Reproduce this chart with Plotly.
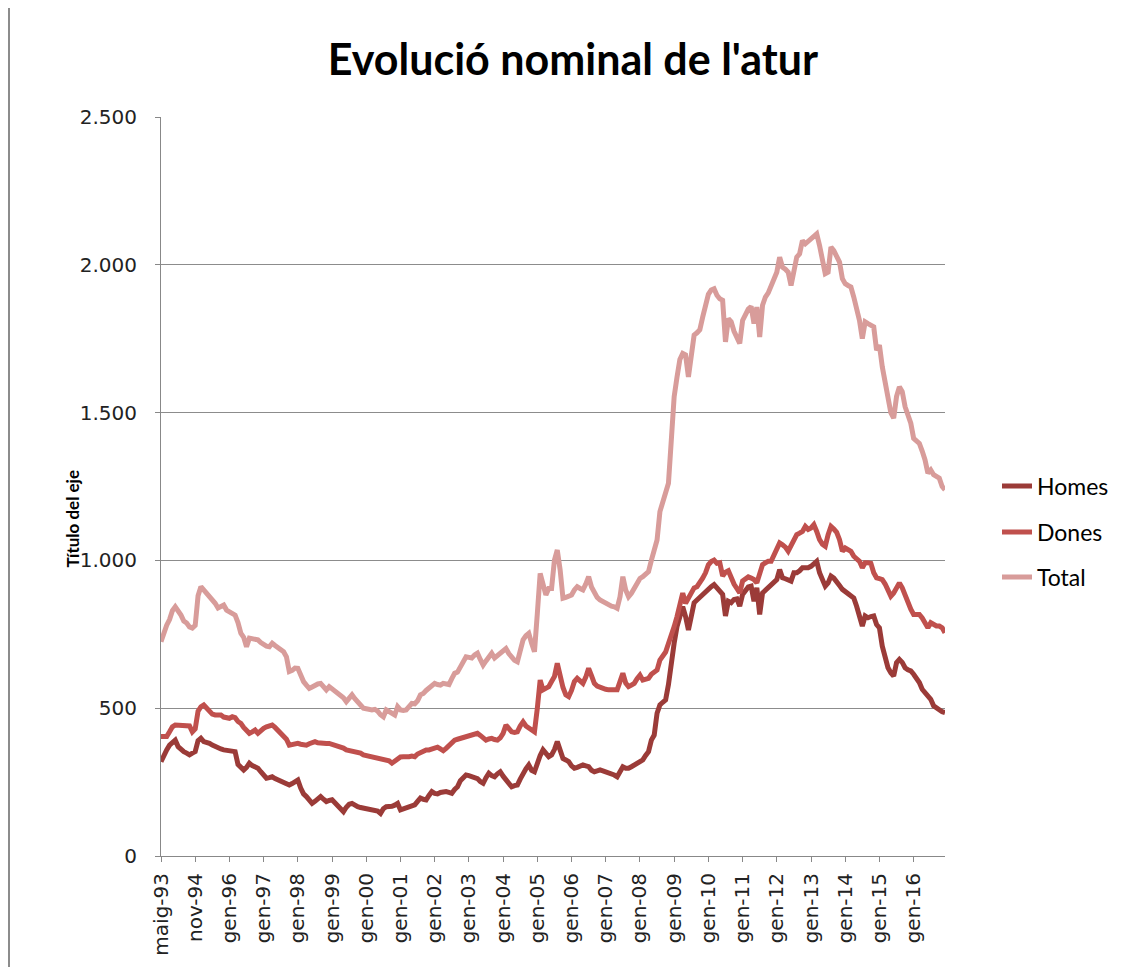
import plotly.graph_objects as go

# Monthly series (thousands), first point maig-93, one label every 12 points
homes = [319, 345, 359, 375, 385, 392, 370, 360, 353, 348, 342, 348,
         353, 390, 398, 387, 385, 381, 375, 369, 364, 362, 359, 357,
         355, 353, 353, 310, 297, 291, 300, 314, 306, 302, 297, 285,
         274, 263, 265, 268, 262, 257, 252, 247, 242, 240, 245, 252,
         257, 230, 210, 201, 190, 178, 185, 195, 201, 192, 184, 188,
         190, 180, 168, 158, 150, 165, 175, 178, 170, 167, 164, 162,
         161, 159, 157, 156, 152, 144, 160, 167, 167, 168, 172, 178,
         156, 160, 161, 166, 170, 173, 185, 196, 192, 190, 205, 218,
         212, 210, 215, 218, 218, 215, 212, 225, 234, 255, 268, 274,
         272, 270, 268, 262, 252, 246, 265, 280, 272, 268, 278, 285,
         270, 257, 245, 234, 238, 240, 260, 280, 295, 308, 290, 285,
         319, 340, 359, 345, 336, 342, 360, 387, 355, 330, 325, 319,
         305, 297, 300, 305, 308, 305, 302, 290, 285, 288, 291, 288,
         285, 282, 280, 274, 268, 290, 302, 297, 297, 302, 308, 315,
         320, 325, 340, 353, 392, 409, 483, 511, 520, 528, 580, 660,
         720, 776, 810, 843, 810, 765, 810, 857, 866, 875, 885, 894,
         907, 911, 918, 907, 890, 885, 812, 862, 857, 868, 870, 845,
         885, 900, 910, 913, 862, 907, 817, 890, 900, 907, 915, 924,
         935, 969, 941, 938, 935, 930, 958, 958, 965, 975, 975, 975,
         980, 990, 997, 958, 930, 913, 924, 947, 940, 930, 915, 902,
         895, 890, 880, 873, 845, 812, 778, 812, 806, 810, 812, 783,
         772, 710, 665, 637, 620, 609, 654, 665, 655, 637, 630, 626,
         615, 600, 587, 564, 553, 540, 530, 508, 500, 497, 488, 485]

dones = [404, 404, 404, 420, 437, 443, 443, 443, 443, 443, 440, 420,
         430, 490, 505, 511, 500, 488, 480, 477, 477, 477, 470, 468,
         466, 471, 468, 455, 449, 435, 426, 415, 420, 426, 415, 425,
         432, 437, 440, 443, 435, 426, 418, 409, 395, 375, 378, 381,
         381, 378, 375, 375, 380, 385, 387, 383, 381, 382, 381, 381,
         378, 375, 372, 370, 365, 359, 357, 355, 354, 353, 348, 342,
         340, 338, 336, 334, 332, 330, 328, 325, 322, 314, 320, 330,
         335, 336, 335, 336, 338, 336, 345, 350, 353, 359, 359, 362,
         364, 368, 362, 356, 364, 375, 385, 392, 395, 398, 400, 404,
         408, 412, 415, 415, 408, 400, 392, 396, 398, 394, 392, 400,
         415, 443, 432, 420, 418, 420, 440, 454, 440, 432, 425, 420,
         500, 595, 562, 570, 573, 590, 607, 652, 600, 570, 545, 539,
         560, 590, 601, 590, 584, 605, 635, 610, 584, 575, 570, 567,
         564, 562, 562, 563, 562, 590, 618, 585, 573, 578, 584, 600,
         612, 595, 598, 601, 615, 625, 629, 663, 674, 690, 719, 745,
         776, 810, 843, 889, 855, 872, 894, 907, 911, 924, 940, 958,
         985, 996, 1001, 990, 992, 947, 960, 965, 941, 920, 905, 890,
         930, 938, 944, 940, 935, 924, 958, 986, 992, 997, 997, 1015,
         1040, 1059, 1053, 1045, 1031, 1050, 1070, 1087, 1092, 1098, 1115, 1105,
         1110, 1121, 1098, 1070, 1055, 1048, 1087, 1115, 1106, 1095, 1070, 1031,
         1042, 1038, 1031, 1014, 1003, 997, 975, 992, 992, 990, 958, 941,
         938, 935, 920, 900, 879, 890, 910, 924, 907, 880, 862, 835,
         817, 817, 817, 805, 790, 772, 789, 782, 778, 778, 772, 755]

total = [725, 760, 781, 800, 830, 843, 830, 815, 795, 788, 775, 771,
         780, 880, 911, 900, 890, 883, 870, 855, 839, 845, 849, 832,
         825, 820, 815, 790, 754, 740, 708, 737, 735, 733, 731, 722,
         714, 710, 708, 720, 712, 704, 697, 691, 674, 624, 628, 636,
         635, 610, 590, 578, 567, 572, 578, 582, 584, 570, 562, 573,
         565, 562, 552, 545, 535, 522, 535, 545, 532, 522, 510, 500,
         498, 495, 494, 496, 490, 478, 471, 494, 488, 482, 477, 505,
         494, 492, 494, 505, 516, 515, 525, 545, 550, 560, 570, 580,
         584, 580, 578, 584, 582, 580, 600, 618, 622, 640, 663, 674,
         672, 670, 680, 686, 665, 646, 660, 670, 686, 670, 678, 686,
         695, 702, 685, 670, 662, 657, 700, 731, 745, 753, 720, 691,
         820, 956, 920, 883, 905, 905, 1001, 1035, 968, 872, 875, 877,
         883, 900, 911, 905, 900, 920, 945, 910, 889, 875, 866, 860,
         855, 850, 845, 843, 838, 877, 945, 900, 877, 889, 905, 922,
         939, 945, 955, 962, 1000, 1030, 1069, 1165, 1193, 1220, 1261, 1407,
         1554, 1620, 1680, 1700, 1695, 1621, 1700, 1762, 1770, 1780, 1823, 1870,
         1900, 1915, 1919, 1897, 1885, 1880, 1739, 1818, 1807, 1775, 1750, 1734,
         1812, 1835, 1850, 1859, 1801, 1857, 1756, 1863, 1891, 1905, 1930, 1950,
         1975, 2026, 1992, 1985, 1975, 1930, 1970, 2026, 2037, 2082, 2071, 2080,
         2088, 2099, 2105, 2065, 2015, 1970, 1975, 2060, 2048, 2031, 2009, 1953,
         1936, 1930, 1925, 1891, 1852, 1812, 1750, 1807, 1801, 1795, 1790, 1711,
         1728, 1655, 1599, 1537, 1500, 1481, 1554, 1587, 1571, 1520, 1490, 1464,
         1413, 1405, 1396, 1370, 1340, 1295, 1306, 1290, 1284, 1278, 1250, 1239]

tick_labels = ['maig-93', 'nov-94'] + ['gen-%02d' % (y % 100) for y in range(1996, 2017)]

# the page puts the figure 8px in from the top-left corner
OFF = 8
W, H = 1135 - OFF, 967 - OFF
L, R, T, B = 161, 945, 117, 856  # plot area, page pixels


def px_x(x):
    return (x - L) / (R - L)


def px_y(y):
    return (B - y) / (B - T)


idx = list(range(len(total)))

fig = go.Figure()
series = [('Homes', homes, '#9B3B38', 'legend', 486),
          ('Dones', dones, '#C0504D', 'legend2', 532),
          ('Total', total, '#D89C9A', 'legend3', 577)]
leg_cfg = {}
for name, vals, col, leg, ypos in series:
    fig.add_trace(go.Scatter(x=idx, y=vals, name=name, mode='lines', legend=leg,
                             line=dict(color=col, width=5), hoverinfo='y'))
    leg_cfg[leg] = dict(x=px_x(997), y=px_y(ypos), xanchor='left', yanchor='middle',
                        font=dict(family='Lato', size=23, color='#000000'),
                        bgcolor='rgba(0,0,0,0)')

fig.update_xaxes(range=[0, len(total) - 1], tickmode='array',
                 tickvals=[12 * k for k in range(len(tick_labels))], ticktext=tick_labels,
                 tickangle=-90, showgrid=False, zeroline=False,
                 showline=True, linecolor='#888888', linewidth=1,
                 ticks='outside', ticklen=5, tickcolor='#888888',
                 ticklabelstandoff=3,
                 tickfont=dict(family='DejaVu Sans', size=20, color='#222222'))
fig.update_yaxes(range=[0, 2500], dtick=500, tickformat=',d',
                 showgrid=True, gridcolor='#8c8c8c', gridwidth=1, zeroline=False,
                 showline=True, linecolor='#888888', linewidth=1,
                 ticks='outside', ticklen=5, tickcolor='#888888',
                 ticklabelstandoff=14,
                 tickfont=dict(family='DejaVu Sans', size=20, color='#222222'))

fig.add_annotation(text='<b>Título del eje</b>', textangle=-90, showarrow=False,
                   xref='paper', yref='paper', x=px_x(59), y=px_y(519),
                   font=dict(family='Lato', size=17, color='#000000'))

# chart area border (left edge)
fig.add_shape(type='line', xref='paper', yref='paper',
              x0=px_x(9), x1=px_x(9), y0=px_y(967), y1=px_y(0),
              line=dict(color='#8c8c8c', width=2), layer='below')

fig.update_layout(
    width=W, height=H,
    margin=dict(l=L - OFF, r=W - (R - OFF), t=T - OFF, b=H - (B - OFF)),
    separators=',.',
    paper_bgcolor='white', plot_bgcolor='white',
    title=dict(text='<b>Evolució nominal de l\'atur</b>', xref='container', x=(573 - OFF) / W,
               xanchor='center', y=1 - (60 - OFF) / H, yanchor='middle',
               font=dict(family='Lato', size=43, color='#000000')),
    showlegend=True,
    **leg_cfg,
)

fig.write_html('out.html')
